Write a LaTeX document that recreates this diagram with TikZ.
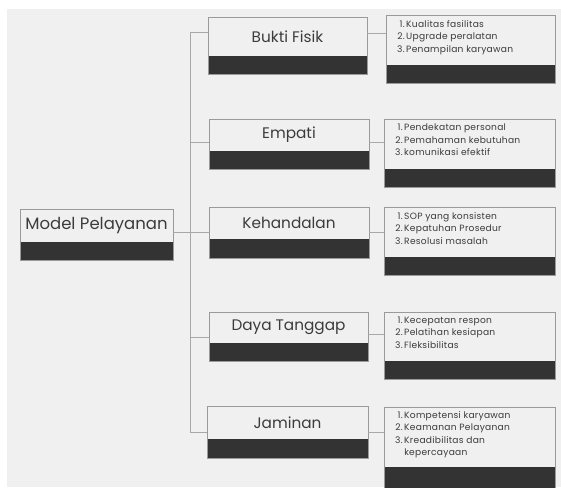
\documentclass[tikz,border=0pt]{standalone}
\usepackage{fontspec}
\setmainfont{Poppins}[Ligatures=NoCommon]
\newfontfamily\spacedfont{Poppins}[Ligatures=NoCommon]
\newfontfamily\itemfont{Poppins}[Ligatures=NoCommon,LetterSpace=3]
\usetikzlibrary{calc}
\definecolor{bg}{HTML}{F0F0F0}
\definecolor{bandc}{HTML}{333333}
\definecolor{edgec}{HTML}{9A9A9A}
\definecolor{wirec}{HTML}{A8A8A8}
\definecolor{ink}{HTML}{3C3C3C}
% \tbox{name}{x1}{y1}{x2}{y2}{band top}
\newcommand\tbox[6]{%
  \node[box, minimum width={(#4-#2)*1pt}, minimum height={(#5-#3)*1pt}] (#1) at ({(#2+#4)/2},{(#3+#5)/2}) {};
  \fill[bandc] (#1.south west) rectangle (#1.east |- 0,#6);
  \draw[draw=edgec, line width=0.9pt] (#1.south west) rectangle (#1.north east);
}
\begin{document}
\begin{tikzpicture}[x=1pt,y=-1pt,
  box/.style={draw=edgec, line width=0.9pt, fill=bg, inner sep=0pt, outer sep=0pt},
  title/.style={text=ink, font=\spacedfont\fontsize{15.3}{18}\selectfont, inner sep=0pt},
  bigtitle/.style={title, font=\spacedfont\fontsize{16.5}{19}\selectfont},
  items/.style={text=ink, font=\itemfont\fontsize{9.1}{12.4}\selectfont, inner sep=0pt, anchor=base west},
  wire/.style={draw=wirec, line width=0.9pt}]
\useasboundingbox (0,0) rectangle (561,487);
\clip (0,0) rectangle (561,487);
\fill[white] (0,0) rectangle (561,487);
\fill[bg] (7,9) rectangle (561,487);

% root
\tbox{mp}{20}{209}{173}{260}{242}
\node[bigtitle] (mpt) at (96.5,226) {Model Pelayanan};

% middle boxes
\tbox{bf}{208}{17}{367}{74}{56}
\node[title] (bft) at (287.5,36.5) {Bukti Fisik};
\tbox{em}{209}{119}{369}{169}{151}
\node[title] (emt) at (289,135) {Empati};
\tbox{kh}{209}{207}{369}{258}{239}
\node[title] (kht) at (289,223) {Kehandalan};
\tbox{dt}{209}{312}{368}{361}{343}
\node[title] (dtt) at (288.5,327.5) {Daya Tanggap};
\tbox{jm}{207}{406}{368}{458}{439}
\node[title] (jmt) at (287.5,422.5) {Jaminan};

% list boxes
\tbox{bfl}{386}{15}{555}{83}{65}
\node[items] (bfi) at (397,27.5) {\begin{tabular}[t]{@{}r@{\hspace{1.5pt}}l@{}}1.&Kualitas fasilitas\\2.&Upgrade peralatan\\3.&Penampilan karyawan\end{tabular}};
\tbox{eml}{384}{119}{555}{187}{169}
\node[items] (emi) at (395,130.8) {\begin{tabular}[t]{@{}r@{\hspace{1.5pt}}l@{}}1.&Pendekatan personal\\2.&Pemahaman kebutuhan\\3.&komunikasi efektif\end{tabular}};
\tbox{khl}{384}{207}{555}{275}{257}
\node[items] (khi) at (395,219.5) {\begin{tabular}[t]{@{}r@{\hspace{1.5pt}}l@{}}1.&SOP yang konsisten\\2.&Kepatuhan Prosedur\\3.&Resolusi masalah\end{tabular}};
\tbox{dtl}{384}{312}{555}{379}{361}
\node[items] (dti) at (395,323.5) {\begin{tabular}[t]{@{}r@{\hspace{1.5pt}}l@{}}1.&Kecepatan respon\\2.&Pelatihan kesiapan\\3.&Fleksibilitas\end{tabular}};
\tbox{jml}{384}{407}{555}{492}{467}
\node[items] (jmi) at (395,418.5) {\begin{tabular}[t]{@{}r@{\hspace{1.5pt}}l@{}}1.&Kompetensi karyawan\\2.&Keamanan Pelayanan\\3.&Kreadibilitas dan\\&kepercayaan\end{tabular}};

% tree connectors
\coordinate (tt) at (190,32);
\coordinate (t2) at (190,142);
\coordinate (t3) at (190,232);
\coordinate (t4) at (190,337);
\coordinate (tb) at (190,432);
\draw[wire] (tt) -- (tb);
\draw[wire] (tt) -- (bf.west |- tt);
\draw[wire] (t2) -- (em.west |- t2);
\draw[wire] (mp.east |- t3) -- (kh.west |- t3);
\draw[wire] (t4) -- (dt.west |- t4);
\draw[wire] (tb) -- (jm.west |- tb);

% leaf connectors
\coordinate (r1) at (0,33);
\coordinate (r2) at (0,142);
\coordinate (r3) at (0,232);
\coordinate (r4) at (0,334);
\coordinate (r5) at (0,432);
\draw[wire] (bf.east |- r1) -- (bfl.west |- r1);
\draw[wire] (em.east |- r2) -- (eml.west |- r2);
\draw[wire] (kh.east |- r3) -- (khl.west |- r3);
\draw[wire] (dt.east |- r4) -- (dtl.west |- r4);
\draw[wire] (jm.east |- r5) -- (jml.west |- r5);
\end{tikzpicture}
\end{document}
